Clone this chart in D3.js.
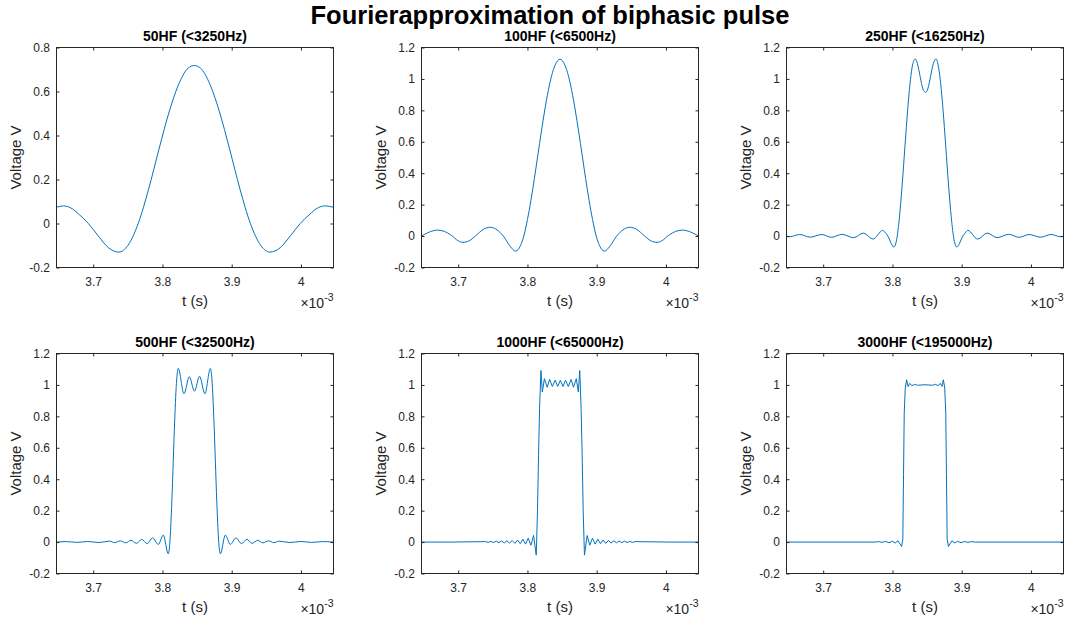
<!DOCTYPE html>
<html>
<head>
<meta charset="utf-8">
<script src="https://cdnjs.cloudflare.com/ajax/libs/d3/7.8.5/d3.min.js"></script>
<style>
  body { margin: 0; background: #ffffff; }
  svg text { font-family: "Liberation Sans", Arial, Helvetica, sans-serif; }
</style>
</head>
<body>
<div id="figure-holder"></div>
<script>
      // DATA (t in ms, i.e. x 10^-3 s ; voltage in V)
      var figTitle = "Fourierapproximation of biphasic pulse";
      var plotTitles = ["50HF (<3250Hz)", "100HF (<6500Hz)", "250HF (<16250Hz)",
                        "500HF (<32500Hz)", "1000HF (<65000Hz)", "3000HF (<195000Hz)"];
      var tRange = [3.647, 4.047];
      var xTicks = [3.7, 3.8, 3.9, 4];
      var xTickLabels = ["3.7", "3.8", "3.9", "4"];
      var yTicksLow = [-0.2, 0, 0.2, 0.4, 0.6, 0.8];
      var yTickLabelsLow = ["-0.2", "0", "0.2", "0.4", "0.6", "0.8"];
      var yTicksHigh = [-0.2, 0, 0.2, 0.4, 0.6, 0.8, 1, 1.2];
      var yTickLabelsHigh = ["-0.2", "0", "0.2", "0.4", "0.6", "0.8", "1", "1.2"];

      var wave50 = [
        [3.647, 0.074], [3.657, 0.080], [3.667, 0.072], [3.680, 0.040], [3.693, 0.000],
        [3.707, -0.055], [3.722, -0.110], [3.737, -0.130], [3.750, -0.100], [3.765, 0.000],
        [3.780, 0.156], [3.795, 0.338], [3.810, 0.511], [3.825, 0.644], [3.837, 0.706],
        [3.846, 0.718], [3.855, 0.706], [3.867, 0.644], [3.882, 0.511], [3.897, 0.338],
        [3.912, 0.156], [3.927, 0.000], [3.942, -0.100], [3.955, -0.130], [3.970, -0.110],
        [3.985, -0.055], [3.999, 0.000], [4.012, 0.040], [4.025, 0.072], [4.035, 0.080],
        [4.047, 0.074]
      ];
      var wave100 = [
        [3.647, 0.000], [3.658, 0.025], [3.670, 0.038], [3.680, 0.030], [3.690, 0.005],
        [3.700, -0.030], [3.707, -0.040], [3.716, -0.030], [3.726, 0.005], [3.736, 0.042],
        [3.746, 0.056], [3.756, 0.040], [3.766, -0.005], [3.775, -0.065], [3.783, -0.096],
        [3.790, -0.060], [3.795, 0.005], [3.800, 0.105], [3.805, 0.227], [3.810, 0.366],
        [3.815, 0.515], [3.820, 0.663], [3.825, 0.802], [3.830, 0.925], [3.835, 1.022],
        [3.840, 1.089], [3.847, 1.125], [3.854, 1.089], [3.859, 1.022], [3.864, 0.925],
        [3.869, 0.802], [3.874, 0.663], [3.879, 0.515], [3.884, 0.366], [3.889, 0.227],
        [3.894, 0.105], [3.899, 0.005], [3.904, -0.060], [3.911, -0.096], [3.919, -0.065],
        [3.928, -0.005], [3.938, 0.040], [3.948, 0.056], [3.958, 0.042], [3.968, 0.005],
        [3.978, -0.030], [3.987, -0.040], [3.994, -0.030], [4.004, 0.005], [4.014, 0.030],
        [4.024, 0.038], [4.036, 0.025], [4.047, 0.000]
      ];
      var wave250 = [
        [3.647, 0.000], [3.652, -0.004], [3.666, 0.010], [3.681, -0.007], [3.698, 0.010],
        [3.712, -0.008], [3.727, 0.011], [3.744, -0.010], [3.758, 0.019], [3.772, -0.019],
        [3.786, 0.036], [3.790, 0.020], [3.794, -0.005], [3.798, -0.045], [3.802, -0.070],
        [3.806, -0.024], [3.810, 0.116], [3.814, 0.324], [3.818, 0.569], [3.822, 0.806],
        [3.826, 0.996], [3.829, 1.088], [3.833, 1.127], [3.836, 1.098], [3.840, 1.015],
        [3.844, 0.936], [3.848, 0.914], [3.851, 0.936], [3.855, 1.015], [3.859, 1.098],
        [3.863, 1.127], [3.866, 1.088], [3.869, 0.996], [3.873, 0.806], [3.877, 0.569],
        [3.881, 0.324], [3.885, 0.116], [3.889, -0.024], [3.893, -0.070], [3.897, -0.045],
        [3.901, -0.005], [3.905, 0.020], [3.909, 0.036], [3.923, -0.019], [3.937, 0.019],
        [3.951, -0.010], [3.968, 0.011], [3.983, -0.008], [3.997, 0.010], [4.014, -0.007],
        [4.029, 0.010], [4.043, -0.004], [4.047, 0.000]
      ];
      var wave500 = [
        [3.647, 0.000], [3.661, 0.003], [3.677, -0.002], [3.692, 0.004], [3.708, -0.003],
        [3.7235, 0.006], [3.731, -0.004], [3.739, 0.008], [3.747, -0.005], [3.7545, 0.011],
        [3.7627, -0.008], [3.770, 0.017], [3.778, -0.010], [3.7858, 0.027], [3.794, -0.015],
        [3.8012, 0.044], [3.8084, -0.075], [3.811, 0.018], [3.8135, 0.254], [3.8156, 0.515],
        [3.8177, 0.776], [3.8205, 1.032], [3.8228, 1.105], [3.8311, 0.944], [3.8388, 1.052],
        [3.8462, 0.960], [3.8536, 1.055], [3.8613, 0.944], [3.8692, 1.105], [3.8715, 1.032],
        [3.8743, 0.776], [3.8764, 0.515], [3.8785, 0.254], [3.881, 0.018], [3.8836, -0.075],
        [3.8908, 0.044], [3.898, -0.015], [3.9062, 0.027], [3.914, -0.010], [3.922, 0.017],
        [3.9293, -0.008], [3.9375, 0.011], [3.945, -0.005], [3.953, 0.008], [3.961, -0.004],
        [3.9685, 0.006], [3.984, -0.003], [4.000, 0.004], [4.015, -0.002], [4.031, 0.003],
        [4.047, 0.000]
      ];
      var wave1000 = [
        [3.647, 0.000], [3.690, 0.000], [3.7395, 0.003], [3.7434, -0.002], [3.7472, 0.004],
        [3.7511, -0.003], [3.755, 0.006], [3.7588, -0.004], [3.7626, 0.007], [3.7665, -0.005],
        [3.7703, 0.008], [3.7742, -0.006], [3.778, 0.010], [3.7819, -0.008], [3.7857, 0.013],
        [3.7896, -0.010], [3.7934, 0.018], [3.7973, -0.013], [3.8011, 0.025], [3.805, -0.020],
        [3.8088, 0.042], [3.8127, -0.083], [3.8145, 0.200], [3.8160, 0.550], [3.8175, 0.850],
        [3.8195, 1.092], [3.8215, 0.955], [3.8245, 1.040], [3.8285, 0.985], [3.832, 1.035],
        [3.836, 0.990], [3.840, 1.030], [3.8437, 0.990], [3.8475, 1.030], [3.8513, 0.990],
        [3.855, 1.030], [3.859, 0.990], [3.863, 1.035], [3.8665, 0.985], [3.8705, 1.040],
        [3.8735, 0.955], [3.8755, 1.092], [3.8775, 0.850], [3.879, 0.550], [3.8805, 0.200],
        [3.8823, -0.083], [3.8862, 0.042], [3.890, -0.020], [3.8939, 0.025], [3.8977, -0.013],
        [3.9016, 0.018], [3.9054, -0.010], [3.9093, 0.013], [3.9131, -0.008], [3.917, 0.010],
        [3.9208, -0.006], [3.9247, 0.008], [3.9285, -0.005], [3.9324, 0.007], [3.9362, -0.004],
        [3.940, 0.006], [3.9439, -0.003], [3.9478, 0.004], [3.9516, -0.002], [3.9555, 0.003],
        [4.005, 0.000], [4.047, 0.000]
      ];
      var wave3000 = [
        [3.647, 0.000], [3.775, 0.000], [3.780, 0.003], [3.785, -0.002], [3.790, 0.004],
        [3.795, -0.004], [3.800, 0.005], [3.804, -0.006], [3.808, 0.008], [3.811, -0.012],
        [3.8133, -0.028], [3.8150, 0.020], [3.8160, 0.430], [3.8170, 0.820], [3.8185, 0.980],
        [3.8205, 1.033], [3.8225, 0.990], [3.825, 1.010], [3.828, 0.995], [3.832, 1.004],
        [3.836, 0.998], [3.847, 1.001], [3.858, 0.998], [3.862, 1.004], [3.866, 0.995],
        [3.869, 1.010], [3.8715, 0.990], [3.8735, 1.033], [3.8755, 0.980], [3.877, 0.820],
        [3.878, 0.430], [3.879, 0.020], [3.8809, -0.028], [3.883, -0.012], [3.886, 0.008],
        [3.890, -0.006], [3.894, 0.005], [3.899, -0.004], [3.904, 0.004], [3.909, -0.002],
        [3.914, 0.003], [3.920, 0.000], [4.047, 0.000]
      ];

      var waves = [wave50, wave100, wave250, wave500, wave1000, wave3000];
      var smoothWave = [true, true, true, true, false, false];

      // LAYOUT
      var colLeft = [56.5, 421.5, 786.5];
      var rowTop = [47.5, 353.5];
      var plotW = 277;
      var plotH = 220;
      var axisColor = "#262626";
      var lineColor = "#0072bd";
      var tickLen = 3;

      var svg = d3
        .select("#figure-holder")
        .append("svg")
        .attr("width", 1068)
        .attr("height", 626)
        .style("display", "block")
      ;

      svg
        .append("rect")
        .attr("width", 1068)
        .attr("height", 626)
        .attr("fill", "#ffffff")
      ;

      // overall title
      svg
        .append("text")
        .attr("x", 550)
        .attr("y", 23.5)
        .attr("text-anchor", "middle")
        .attr("font-size", "25.5px")
        .attr("font-weight", "bold")
        .attr("fill", "#000000")
        .text(figTitle)
      ;

      waves.forEach(function(wave, i) {
        var col = i % 3;
        var row = Math.floor(i / 3);
        var yTicks = i == 0 ? yTicksLow : yTicksHigh;
        var yTickLabels = i == 0 ? yTickLabelsLow : yTickLabelsHigh;

        var x = d3.scaleLinear().domain(tRange).range([0, plotW]);
        var y = d3.scaleLinear().domain([yTicks[0], yTicks[yTicks.length - 1]]).range([plotH, 0]);

        var g = svg
          .append("g")
          .attr("transform", "translate(" + colLeft[col] + "," + rowTop[row] + ")")
        ;

        g.append("clipPath")
          .attr("id", "clip" + i)
          .append("rect")
          .attr("width", plotW)
          .attr("height", plotH)
        ;

        // the curve
        var line = d3
          .line()
          .x(function(d) { return x(d[0]); })
          .y(function(d) { return y(d[1]); })
          .curve(smoothWave[i] ? d3.curveMonotoneX : d3.curveLinear)
        ;

        g.append("path")
          .datum(wave)
          .attr("clip-path", "url(#clip" + i + ")")
          .attr("d", line)
          .attr("fill", "none")
          .attr("stroke", lineColor)
          .attr("stroke-width", 1)
          .attr("stroke-linejoin", "round")
        ;

        // axes, ticks pointing inwards on all four sides
        var bottomAxis = d3.axisBottom(x)
          .tickValues(xTicks)
          .tickFormat(function(d, k) { return xTickLabels[k]; })
          .tickSizeInner(-tickLen)
          .tickSizeOuter(0)
          .tickPadding(10)
        ;
        var topAxis = d3.axisTop(x).tickValues(xTicks).tickFormat("").tickSizeInner(-tickLen).tickSizeOuter(0);
        var leftAxis = d3.axisLeft(y)
          .tickValues(yTicks)
          .tickFormat(function(d, k) { return yTickLabels[k]; })
          .tickSizeInner(-tickLen)
          .tickSizeOuter(0)
          .tickPadding(6.5)
        ;
        var rightAxis = d3.axisRight(y).tickValues(yTicks).tickFormat("").tickSizeInner(-tickLen).tickSizeOuter(0);

        var axes = [
          g.append("g").attr("transform", "translate(0," + plotH + ")").call(bottomAxis),
          g.append("g").call(topAxis),
          g.append("g").call(leftAxis),
          g.append("g").attr("transform", "translate(" + plotW + ",0)").call(rightAxis)
        ];
        axes.forEach(function(a) {
          a.select(".domain").remove();
          a.selectAll(".tick line").attr("stroke", axisColor);
          a.selectAll(".tick text")
            .attr("fill", axisColor)
            .attr("font-size", "12px")
            .attr("font-family", "\"Liberation Sans\", Arial, Helvetica, sans-serif")
          ;
        });

        // box
        g.append("rect")
          .attr("width", plotW)
          .attr("height", plotH)
          .attr("fill", "none")
          .attr("stroke", axisColor)
          .attr("stroke-width", 1)
        ;

        // subplot title
        g.append("text")
          .attr("x", plotW / 2)
          .attr("y", -7)
          .attr("text-anchor", "middle")
          .attr("font-size", "14px")
          .attr("font-weight", "bold")
          .attr("fill", "#000000")
          .text(plotTitles[i])
        ;

        // axis labels
        g.append("text")
          .attr("x", plotW / 2)
          .attr("y", plotH + 38)
          .attr("text-anchor", "middle")
          .attr("font-size", "15px")
          .attr("fill", axisColor)
          .text("t (s)")
        ;

        g.append("text")
          .attr("transform", "translate(-36," + plotH / 2 + ") rotate(-90)")
          .attr("text-anchor", "middle")
          .attr("font-size", "15px")
          .attr("fill", axisColor)
          .text("Voltage V")
        ;

        // x10^-3 exponent label
        var expLabel = g.append("text")
          .attr("x", plotW)
          .attr("y", plotH + 40)
          .attr("text-anchor", "end")
          .attr("font-size", "14px")
          .attr("fill", axisColor)
        ;
        expLabel.append("tspan").text("\u00d710");
        expLabel.append("tspan")
          .attr("dy", -6.5)
          .attr("font-size", "10.5px")
          .text("-3")
        ;
      });
</script>
</body>
</html>
